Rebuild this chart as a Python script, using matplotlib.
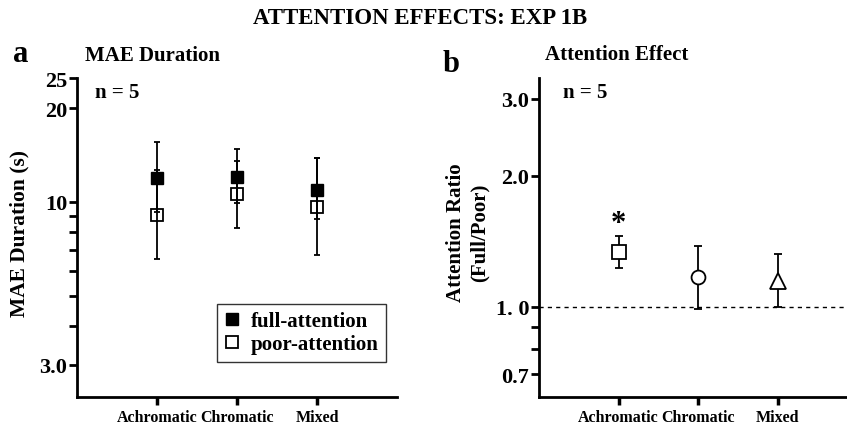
import numpy as np
import matplotlib
matplotlib.use('Agg')
import matplotlib.pyplot as plt
from matplotlib.lines import Line2D

plt.rcParams['font.family'] = ['Liberation Serif', 'DejaVu Serif']
plt.rcParams['font.weight'] = 'bold'
plt.rcParams['axes.labelweight'] = 'bold'

conditions = ['Achromatic', 'Chromatic', 'Mixed']

# panel a: MAE duration (s), means and error bar ends
full_mean = [11.95, 12.05, 10.9]
full_lo = [9.28, 9.9, 8.78]
full_hi = [15.55, 14.75, 13.79]
poor_mean = [9.07, 10.56, 9.65]
poor_lo = [6.53, 8.27, 6.75]
poor_hi = [12.69, 13.54, 13.79]

# panel b: attention ratio (full / poor)
ratio_mean = [1.333, 1.172, 1.147]
ratio_lo = [1.227, 0.988, 1.0]
ratio_hi = [1.45, 1.378, 1.32]
ratio_markers = ['s', 'o', '^']
ratio_sizes = [10, 10, 12]

W, H = 847, 427


def fx(px):
    return px / W


def fy(py):
    return 1 - py / H


def style_axes(ax):
    for s in ['top', 'right']:
        ax.spines[s].set_visible(False)
    for s in ['left', 'bottom']:
        ax.spines[s].set_linewidth(2)
    ax.tick_params(axis='y', which='both', length=6, width=2, pad=1, labelsize=16)
    ax.tick_params(axis='x', length=6, width=2.5, pad=3, labelsize=11.5)


fig = plt.figure(figsize=(8.47, 4.27), dpi=100)

x = np.arange(1, len(conditions) + 1)

# ---- panel a
ax = fig.add_axes([fx(77), fy(398), fx(397) - fx(77), fy(79) - fy(398)])
ax.set_yscale('log')
ax.errorbar(x, full_mean,
            yerr=[np.array(full_mean) - np.array(full_lo), np.array(full_hi) - np.array(full_mean)],
            fmt='s', ms=9, mfc='k', mec='k', ecolor='k', elinewidth=1.3,
            capsize=2, capthick=1.3, zorder=3)
ax.errorbar(x, poor_mean,
            yerr=[np.array(poor_mean) - np.array(poor_lo), np.array(poor_hi) - np.array(poor_mean)],
            fmt='s', ms=8, mfc='none', mec='k', mew=1.3, ecolor='k', elinewidth=1.3,
            capsize=2, capthick=1.3, zorder=3)
ax.set_xlim(0, 4)
ax.set_ylim(2.36, 25)
ax.set_yticks([3, 10, 20, 25], ['3.0', '10', '20', '25'])
ax.set_yticks([4, 5, 6, 7, 8, 9], minor=True)
ax.yaxis.set_minor_formatter(plt.NullFormatter())
ax.set_xticks(x, conditions)
style_axes(ax)
ax.set_ylabel('MAE Duration (s)', fontsize=15.5)
ax.yaxis.set_label_coords(-0.147, 0.517)
ax.text(0.056, 0.94, 'n = 5', transform=ax.transAxes, fontsize=15, va='baseline')

handles = [Line2D([], [], ls='none', marker='s', ms=9, mfc='k', mec='k'),
           Line2D([], [], ls='none', marker='s', ms=8, mfc='none', mec='k', mew=1.3)]
leg = ax.legend(handles, ['full-attention', 'poor-attention'], loc='upper right',
                bbox_to_anchor=(0.966, 0.2915), fontsize=15, frameon=True,
                fancybox=False, edgecolor='k', handlelength=0.8, handletextpad=0.5,
                borderpad=0.35, labelspacing=0.15, borderaxespad=0)
leg.get_frame().set_linewidth(1)

# ---- panel b
ax2 = fig.add_axes([fx(539), fy(398), 1 - fx(539), fy(79) - fy(398)])
ax2.set_yscale('log')
ax2.axhline(1.0, color='k', lw=1, ls=(0, (3, 3)), zorder=1)
for i in range(len(conditions)):
    ax2.errorbar(x[i], ratio_mean[i],
                 yerr=[[ratio_mean[i] - ratio_lo[i]], [ratio_hi[i] - ratio_mean[i]]],
                 fmt=ratio_markers[i], ms=ratio_sizes[i], mfc='white', mec='k', mew=1.3,
                 ecolor='k', elinewidth=1.3, capsize=3, capthick=1.3, zorder=3)
ax2.annotate('*', (x[0], ratio_hi[0]), xytext=(0, -1), textcoords='offset points',
             ha='center', va='bottom', fontsize=22)
ax2.set_xlim(0, 3.87)
ax2.set_ylim(0.62, 3.35)
ax2.set_yticks([0.7, 1.0, 2.0, 3.0], ['0.7', '1. 0', '2.0', '3.0'])
ax2.set_yticks([0.8, 0.9], minor=True)
ax2.yaxis.set_minor_formatter(plt.NullFormatter())
ax2.set_xticks(x, conditions)
style_axes(ax2)
ax2.set_ylabel('Attention Ratio\n(Full/Poor)', fontsize=15, linespacing=1.3)
ax2.yaxis.set_label_coords(-0.159, 0.517)
ax2.text(0.078, 0.94, 'n = 5', transform=ax2.transAxes, fontsize=15, va='baseline')

# ---- figure texts
fig.text(0.496, fy(19), 'ATTENTION EFFECTS: EXP 1B', ha='center', va='center', fontsize=16.5)
fig.text(fx(13), fy(62), 'a', fontsize=22, va='baseline')
fig.text(fx(443), fy(72), 'b', fontsize=22, va='baseline')
fig.text(fx(85), fy(61), 'MAE Duration', fontsize=15, va='baseline')
fig.text(fx(545), fy(60), 'Attention Effect', fontsize=15, va='baseline')

fig.savefig('out.png', dpi=100)
